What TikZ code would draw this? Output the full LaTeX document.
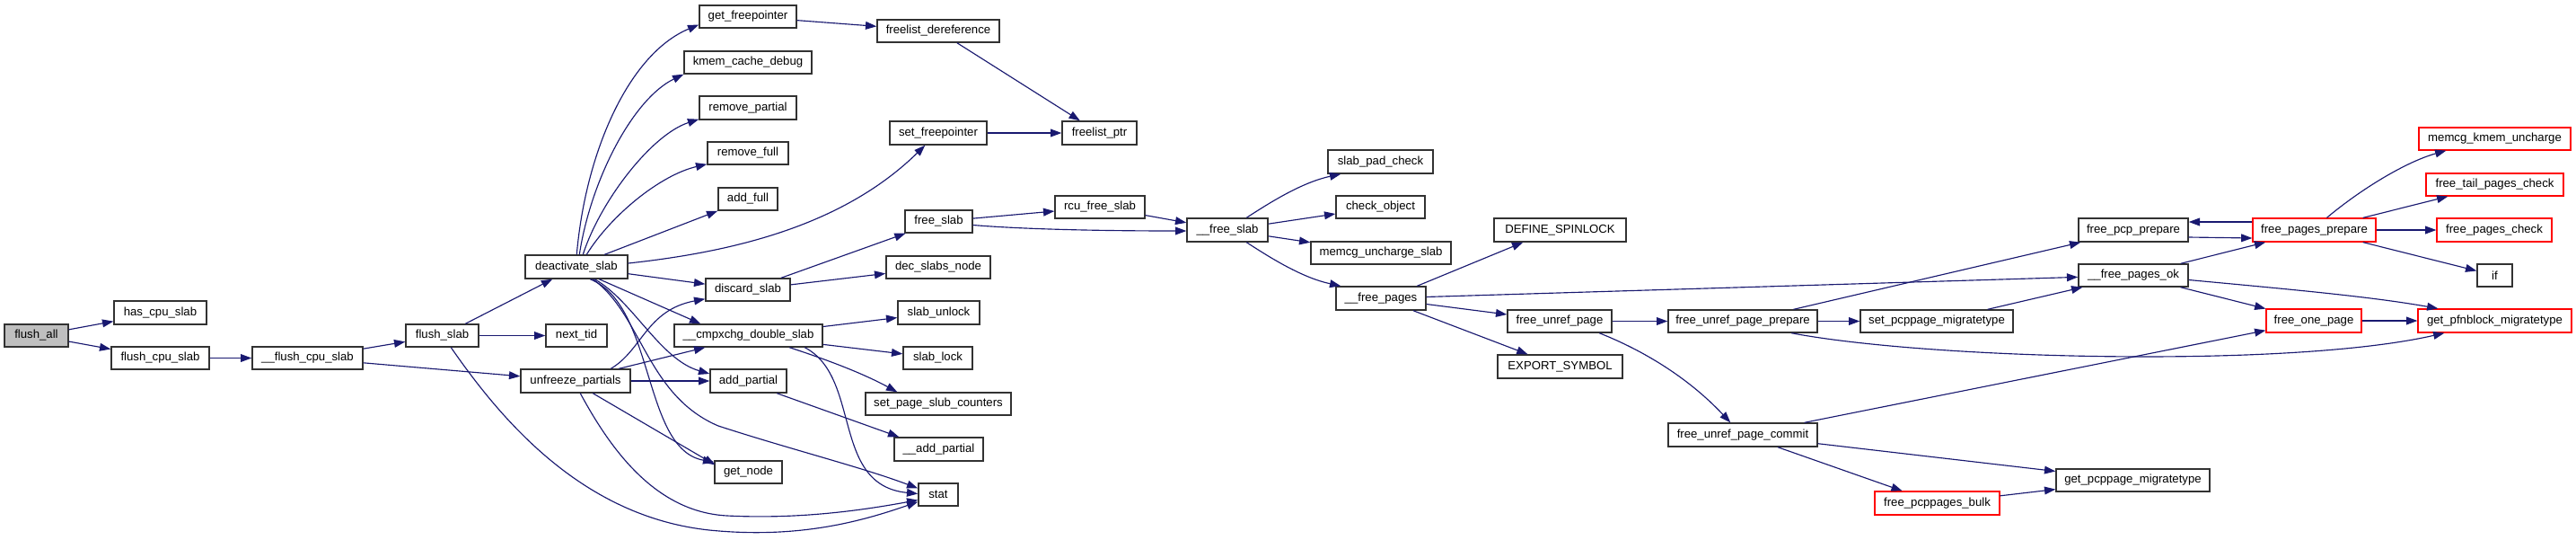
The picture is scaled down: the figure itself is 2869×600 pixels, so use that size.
\documentclass[tikz,border=0pt]{standalone}
\usepackage{fontspec}
\setmainfont{Liberation Sans}
\usetikzlibrary{arrows.meta,calc}
\definecolor{edgecol}{RGB}{25,25,112}
\definecolor{boxline}{RGB}{50,50,50}
\newcommand\nbox[7][]{\node[nbx,#1,minimum width={(#5-#3)*0.02cm},minimum height={(#6-#4)*0.02cm}] (#2) at ({(#3+#5)/2},{(#4+#6)/2}) {#7};}
\begin{document}
\begin{tikzpicture}[x=0.02cm,y=-0.02cm,
  nbx/.style={draw=boxline,line width=0.8pt,fill=white,inner sep=0pt,font=\fontsize{7.5}{9}\selectfont},
  redbox/.style={draw=red,line width=0.7pt},
  rootbox/.style={fill=black!25},
  conn/.style={draw=edgecol,line width=0.65pt,-{Triangle[length=7pt,width=5pt]}}]
\useasboundingbox (0,0) rectangle (2869,600);
% nodes
\nbox[rootbox]{fa}{5}{361}{76}{386}{flush\_all}
\nbox{hcs}{127}{335}{230}{361}{has\_cpu\_slab}
\nbox{fcs}{124}{386}{233}{411}{flush\_cpu\_slab}
\nbox{ffcs}{281}{386}{404}{411}{\_\_flush\_cpu\_slab}
\nbox{fs}{452}{361}{533}{386}{flush\_slab}
\nbox{ntid}{608}{361}{676}{386}{next\_tid}
\nbox{deact}{585}{284}{699}{310}{deactivate\_slab}
\nbox{unf}{580}{411}{702}{437}{unfreeze\_partials}
\nbox{gfp}{779}{6}{887}{31}{get\_freepointer}
\nbox{kmem}{762}{57}{904}{82}{kmem\_cache\_debug}
\nbox{rp}{779}{107}{887}{133}{remove\_partial}
\nbox{rf}{788}{158}{878}{183}{remove\_full}
\nbox{af}{800}{209}{866}{234}{add\_full}
\nbox{disc}{786}{310}{880}{335}{discard\_slab}
\nbox{cmp}{751}{361}{916}{386}{\_\_cmpxchg\_double\_slab}
\nbox{addp}{791}{411}{876}{437}{add\_partial}
\nbox{gn}{796}{513}{871}{538}{get\_node}
\nbox{fld}{977}{22}{1113}{47}{freelist\_dereference}
\nbox{sfp}{991}{135}{1099}{161}{set\_freepointer}
\nbox{fsl}{1008}{234}{1083}{259}{free\_slab}
\nbox{dsn}{987}{285}{1103}{310}{dec\_slabs\_node}
\nbox{su}{1000}{335}{1091}{361}{slab\_unlock}
\nbox{sl}{1006}{386}{1083}{411}{slab\_lock}
\nbox{spsc}{964}{437}{1126}{462}{set\_page\_slub\_counters}
\nbox{adp}{996}{487}{1095}{513}{\_\_add\_partial}
\nbox{stat}{1023}{538}{1067}{563}{stat}
\nbox{flp}{1183}{135}{1266}{161}{freelist\_ptr}
\nbox{rcu}{1175}{218}{1275}{243}{rcu\_free\_slab}
\nbox{fsb}{1322}{243}{1412}{269}{\_\_free\_slab}
\nbox{spc}{1479}{167}{1596}{193}{slab\_pad\_check}
\nbox{co}{1488}{218}{1587}{243}{check\_object}
\nbox{mus}{1460}{269}{1616}{294}{memcg\_uncharge\_slab}
\nbox{fp}{1488}{319}{1588}{345}{\_\_free\_pages}
\nbox{ds}{1664}{243}{1811}{269}{DEFINE\_SPINLOCK}
\nbox{fup}{1679}{345}{1795}{370}{free\_unref\_page}
\nbox{es}{1668}{395}{1807}{421}{EXPORT\_SYMBOL}
\nbox{fupp}{1858}{345}{2024}{370}{free\_unref\_page\_prepare}
\nbox{spm}{2072}{345}{2242}{370}{set\_pcppage\_migratetype}
\nbox{fupc}{1858}{471}{2024}{497}{free\_unref\_page\_commit}
\nbox[redbox]{fpb}{2088}{547}{2227}{573}{free\_pcppages\_bulk}
\nbox{gpm}{2290}{522}{2461}{547}{get\_pcppage\_migratetype}
\nbox{fpcp}{2315}{243}{2437}{269}{free\_pcp\_prepare}
\nbox{fpok}{2315}{294}{2437}{319}{\_\_free\_pages\_ok}
\nbox[redbox]{fpp}{2509}{243}{2646}{269}{free\_pages\_prepare}
\nbox[redbox]{mku}{2694}{142}{2863}{167}{memcg\_kmem\_uncharge}
\nbox[redbox]{ftpc}{2702}{193}{2855}{218}{free\_tail\_pages\_check}
\nbox[redbox]{fpc}{2714}{243}{2842}{269}{free\_pages\_check}
\nbox{iff}{2759}{294}{2798}{319}{if}
\nbox[redbox]{fop}{2524}{344}{2630}{370}{free\_one\_page}
\nbox[redbox]{gpf}{2693}{344}{2864}{370}{get\_pfnblock\_migratetype}
% edges
\draw[conn] (fa) -- (hcs);
\draw[conn] (fa) -- (fcs);
\draw[conn] (fcs) -- (ffcs);
\draw[conn] (ffcs) -- (fs);
\draw[conn] (ffcs) -- (unf);
\draw[conn] (fs) -- (deact);
\draw[conn] (fs) -- (ntid);
\draw[conn] ($(fs.south west)+(51,0)$) .. controls (560,470) and (650,575) .. (790,590) .. controls (890,600) and (960,580) .. ($(stat.west)+(0,8)$);
\draw[conn] ($(deact.north west)+(58,0)$) .. controls (652,170) and (700,60) .. ($(gfp.west)+(0,9)$);
\draw[conn] ($(deact.north west)+(61,0)$) .. controls (658,200) and (705,110) .. (kmem.south west);
\draw[conn] ($(deact.north west)+(65,0)$) .. controls (668,225) and (725,150) .. ($(rp.south west)+(0,-1)$);
\draw[conn] ($(deact.north west)+(69,0)$) .. controls (680,240) and (735,195) .. ($(rf.south west)+(0,-1)$);
\draw[conn] ($(deact.north west)+(89,0)$) -- (af.south west);
\draw[conn] ($(deact.east)+(0,-4)$) .. controls (820,280) and (940,250) .. ($(sfp.south west)+(40,0)$);
\draw[conn] (deact) -- (disc);
\draw[conn] ($(deact.south west)+(83,0)$) -- ($(cmp.north west)+(30,0)$);
\draw[conn] ($(deact.south west)+(78,0)$) .. controls (705,335) and (735,400) .. ($(addp.west)+(0,-8)$);
\draw[conn] ($(deact.south west)+(73,0)$) .. controls (730,340) and (715,500) .. ($(gn.north west)+(0,2)$);
\draw[conn] ($(deact.south west)+(76,0)$) .. controls (715,350) and (720,440) .. (800,474) .. controls (880,500) and (960,520) .. ($(stat.west)+(0,-7)$);
\draw[conn] ($(unf.north west)+(101,0)$) .. controls (715,390) and (720,345) .. ($(disc.south west)+(0,-3)$);
\draw[conn] ($(unf.north west)+(110,0)$) -- ($(cmp.south west)+(35,0)$);
\draw[conn] (unf) -- (addp);
\draw[conn] ($(unf.south west)+(81,0)$) -- ($(gn.north west)+(1,5)$);
\draw[conn] ($(unf.south west)+(67,0)$) .. controls (680,500) and (730,570) .. (810,574) .. controls (890,578) and (960,568) .. ($(stat.west)+(0,6)$);
\draw[conn] (gfp) -- (fld);
\draw[conn] (fld) -- (flp);
\draw[conn] (sfp) -- (flp);
\draw[conn] (disc) -- (fsl);
\draw[conn] (disc) -- (dsn);
\draw[conn] (cmp) -- (su);
\draw[conn] (cmp) -- (sl);
\draw[conn] ($(cmp.south west)+(129,0)$) .. controls (920,400) and (960,415) .. ($(spsc.north west)+(36,0)$);
\draw[conn] ($(cmp.south west)+(146,0)$) .. controls (960,420) and (925,540) .. ($(stat.west)+(0,-1)$);
\draw[conn] ($(addp.south west)+(75,0)$) -- ($(adp.north west)+(6,0)$);
\draw[conn] (fsl) -- (rcu);
\draw[conn] ($(fsl.east)+(0,4)$) .. controls (1150,256) and (1250,257) .. ($(fsb.west)+(0,1)$);
\draw[conn] (rcu) -- (fsb);
\draw[conn] ($(fsb.north west)+(67,0)$) .. controls (1415,225) and (1450,203) .. ($(spc.south west)+(15,0)$);
\draw[conn] (fsb) -- (co);
\draw[conn] (fsb) -- (mus);
\draw[conn] ($(fsb.south west)+(67,0)$) .. controls (1415,287) and (1450,309) .. ($(fp.north west)+(6,0)$);
\draw[conn] ($(fp.north west)+(91,0)$) -- ($(ds.south west)+(33,0)$);
\draw[conn] (fp) -- (fpok);
\draw[conn] (fp) -- (fup);
\draw[conn] (fp) -- (es);
\draw[conn] (fup) -- (fupp);
\draw[conn] ($(fup.south west)+(103,0)$) .. controls (1830,390) and (1880,420) .. ($(fupc.north west)+(70,0)$);
\draw[conn] (fupp) -- (fpcp);
\draw[conn] (fupp) -- (spm);
\draw[conn] ($(fupp.south west)+(138,0)$) .. controls (2150,400) and (2550,410) .. ($(gpf.south west)+(30,0)$);
\draw[conn] (spm) -- (fpok);
\draw[conn] (fupc) -- (fop);
\draw[conn] (fupc) -- (gpm);
\draw[conn] (fupc) -- (fpb);
\draw[conn] (fpb) -- (gpm);
\draw[conn] ($(fpcp.east)+(0,8)$) -- ($(fpp.west)+(0,9)$);
\draw[conn] ($(fpp.west)+(0,-9)$) -- ($(fpcp.east)+(0,-9)$);
\draw[conn] (fpok) -- (fpp);
\draw[conn] ($(fpok.east)+(0,5)$) .. controls (2550,322) and (2640,330) .. ($(gpf.north west)+(23,0)$);
\draw[conn] (fpok) -- (fop);
\draw[conn] ($(fpp.north west)+(83,0)$) .. controls (2630,210) and (2680,180) .. ($(mku.south west)+(31,0)$);
\draw[conn] (fpp) -- (ftpc);
\draw[conn] (fpp) -- (fpc);
\draw[conn] (fpp) -- (iff);
\draw[conn] (fop) -- (gpf);
\end{tikzpicture}
\end{document}
